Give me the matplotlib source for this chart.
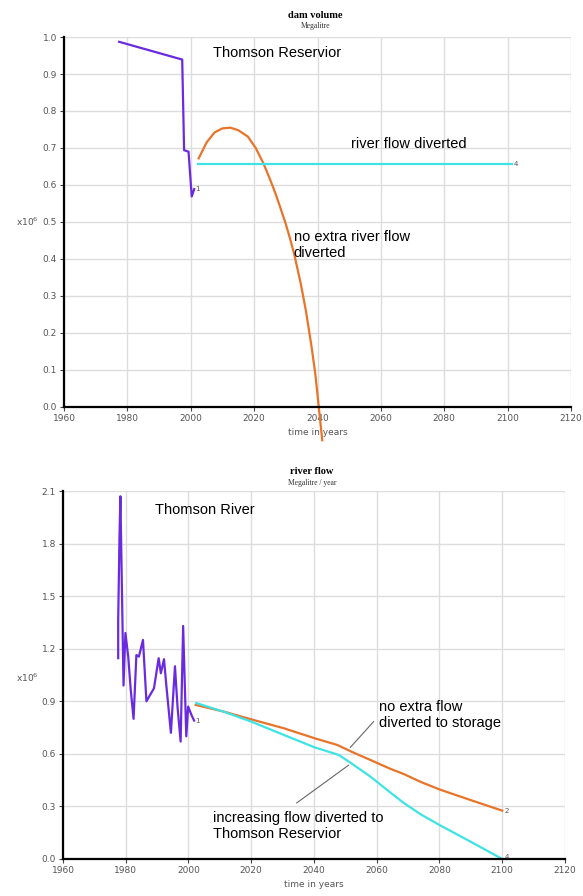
import numpy as np
import matplotlib.pyplot as plt

# ------------------------------------------------------------
# data (values in x10^6)
# ------------------------------------------------------------
# dam volume - historic
dam_hist_years = [1977.4, 1997.3, 1997.9, 1999.3, 2000.3, 2001.1]
dam_hist_vals = [0.987, 0.939, 0.694, 0.690, 0.569, 0.589]

# dam volume - no extra river flow diverted
dam_noextra_years = [2002.5, 2005.0, 2007.5, 2010.0, 2012.5, 2015.0, 2018.0,
                     2020.5, 2022.9, 2024.8, 2026.7, 2028.3, 2029.9, 2031.3,
                     2032.6, 2034.7, 2036.3, 2038.0, 2039.3, 2040.4, 2041.5]
dam_noextra_vals = [0.672, 0.715, 0.742, 0.753, 0.755, 0.748, 0.731,
                    0.700, 0.659, 0.620, 0.578, 0.538, 0.497, 0.456,
                    0.415, 0.334, 0.262, 0.170, 0.090, 0.000, -0.090]

# dam volume - river flow diverted
dam_div_years = [2002.4, 2101.5]
dam_div_vals = [0.656, 0.656]

# river flow - historic
flow_hist_years = [1977.6, 1977.6, 1978.0, 1978.3, 1978.8, 1979.3, 1979.9, 1980.8,
                   1981.6, 1982.5, 1983.4, 1984.2, 1985.5, 1986.6, 1989.0, 1990.5,
                   1991.2, 1992.2, 1993.0, 1994.4, 1995.7, 1996.5, 1997.5, 1998.3,
                   1999.3, 1999.9, 2001.0, 2001.8]
flow_hist_vals = [1.146, 1.36, 1.82, 2.07, 1.53, 0.99, 1.29, 1.155,
                  0.965, 0.80, 1.164, 1.155, 1.25, 0.90, 0.974, 1.146,
                  1.06, 1.14, 0.98, 0.72, 1.10, 0.87, 0.67, 1.33,
                  0.70, 0.87, 0.82, 0.79]

# river flow - no extra flow diverted to storage
flow_noextra_years = [2002.3, 2011.3, 2020.0, 2030.4, 2040.2, 2047.4, 2052.0,
                      2058.0, 2064.3, 2068.6, 2074.0, 2080.0, 2089.8, 2100.0]
flow_noextra_vals = [0.879, 0.841, 0.797, 0.746, 0.689, 0.651, 0.612,
                     0.565, 0.515, 0.485, 0.440, 0.397, 0.337, 0.276]

# river flow - increasing flow diverted to reservoir
flow_div_years = [2002.5, 2011.3, 2020.0, 2030.4, 2040.2, 2047.9, 2052.0,
                  2058.0, 2064.3, 2068.6, 2074.0, 2080.0, 2089.8, 2100.0]
flow_div_vals = [0.89, 0.84, 0.784, 0.708, 0.637, 0.594, 0.545,
                 0.470, 0.380, 0.320, 0.255, 0.194, 0.100, 0.0]

x_ticks = [1960, 1980, 2000, 2020, 2040, 2060, 2080, 2100, 2120]
dam_yticks = [0.0, 0.1, 0.2, 0.3, 0.4, 0.5, 0.6, 0.7, 0.8, 0.9, 1.0]
flow_yticks = [0.0, 0.3, 0.6, 0.9, 1.2, 1.5, 1.8, 2.1]

PURPLE = "#6a2be0"
ORANGE = "#e8742a"
CYAN = "#3fe3e6"
TICK_C = "#555555"

fig = plt.figure(figsize=(5.83, 8.96), dpi=100)
fig.patch.set_facecolor("white")


def style_axes(ax, yticks):
    ax.set_xlim(1960, 2120)
    ax.set_ylim(yticks[0], yticks[-1])
    ax.set_xticks(x_ticks)
    ax.set_yticks(yticks)
    ax.set_xticklabels([str(t) for t in x_ticks])
    ax.set_yticklabels([f"{t:.1f}" for t in yticks])
    ax.grid(True, color="#dddddd", linewidth=1.0)
    ax.set_axisbelow(True)
    for s in ["top", "right"]:
        ax.spines[s].set_visible(False)
    for s in ["left", "bottom"]:
        ax.spines[s].set_linewidth(1.6)
        ax.spines[s].set_color("black")
    ax.tick_params(axis="both", labelsize=6.5, colors=TICK_C, length=3,
                   width=0.8, pad=2)
    ax.tick_params(axis="both", color="#444444")
    ax.set_xlabel("time in years", fontsize=6.5, color=TICK_C, labelpad=4)


# ------------------------------------------------------------
# top: dam volume
# ------------------------------------------------------------
ax1 = fig.add_axes([0.1098, 0.5458, 0.8696, 0.4129])
style_axes(ax1, dam_yticks)
ax1.plot(dam_hist_years, dam_hist_vals, color=PURPLE, lw=1.6)
ax1.plot(dam_noextra_years, dam_noextra_vals, color=ORANGE, lw=1.6,
         clip_on=False)
ax1.plot(dam_div_years, dam_div_vals, color=CYAN, lw=1.6)
ax1.text(dam_hist_years[-1] + 0.3, dam_hist_vals[-1], "1", fontsize=5,
         color=TICK_C, va="center")
ax1.text(dam_div_years[-1] + 0.3, dam_div_vals[-1], "4", fontsize=5,
         color=TICK_C, va="center")

ax1.text(2027.2, 0.957, "Thomson Reservior", fontsize=10.5, ha="center",
         va="center", family="Liberation Sans")
ax1.text(2068.9, 0.71, "river flow diverted", fontsize=10.5, ha="center",
         va="center", family="Liberation Sans")
ax1.text(2032.5, 0.438, "no extra river flow\ndiverted", fontsize=10.5,
         ha="left", va="center", family="Liberation Sans", linespacing=1.2)

fig.text(0.541, 1 - 15 / 896, "dam volume", fontsize=7.5, weight="bold",
         family="Liberation Serif", ha="center", va="center")
fig.text(0.541, 1 - 26 / 896, "Megalitre", fontsize=5.5,
         family="Liberation Serif", ha="center", va="center", color="#333333")
fig.text(0.027, 1 - 222 / 896, r"x10$^6$", fontsize=6.5, color=TICK_C,
         ha="left", va="center")

# ------------------------------------------------------------
# bottom: river flow
# ------------------------------------------------------------
ax2 = fig.add_axes([0.1080, 0.0413, 0.8611, 0.4107])
style_axes(ax2, flow_yticks)
ax2.plot(flow_hist_years, flow_hist_vals, color=PURPLE, lw=1.6)
ax2.plot(flow_noextra_years, flow_noextra_vals, color=ORANGE, lw=1.6)
ax2.plot(flow_div_years, flow_div_vals, color=CYAN, lw=1.6, clip_on=False)
ax2.text(flow_hist_years[-1] + 0.3, flow_hist_vals[-1], "1", fontsize=5,
         color=TICK_C, va="center")
ax2.text(flow_noextra_years[-1] + 0.8, flow_noextra_vals[-1], "2", fontsize=5,
         color=TICK_C, va="center")
ax2.text(flow_div_years[-1] + 0.8, flow_div_vals[-1] + 0.01, "4", fontsize=5,
         color=TICK_C, va="center")

ax2.text(2005.3, 1.99, "Thomson River", fontsize=10.5, ha="center",
         va="center", family="Liberation Sans")
ax2.text(2060.6, 0.82, "no extra flow\ndiverted to storage", fontsize=10.5,
         ha="left", va="center", family="Liberation Sans", linespacing=1.2)
ax2.text(2007.7, 0.19, "increasing flow diverted to\nThomson Reservior",
         fontsize=10.5, ha="left", va="center", family="Liberation Sans",
         linespacing=1.2)
ax2.plot([2059.0, 2051.6], [0.784, 0.637], color="#666666", lw=0.8)
ax2.plot([2051.0, 2034.5], [0.535, 0.32], color="#666666", lw=0.8)

fig.text(0.535, 1 - 471 / 896, "river flow", fontsize=7.5, weight="bold",
         family="Liberation Serif", ha="center", va="center")
fig.text(0.535, 1 - 483 / 896, "Megalitre / year", fontsize=5.5,
         family="Liberation Serif", ha="center", va="center", color="#333333")
fig.text(0.027, 1 - 678 / 896, r"x10$^6$", fontsize=6.5, color=TICK_C,
         ha="left", va="center")

fig.savefig("out.png", dpi=100, facecolor="white")
